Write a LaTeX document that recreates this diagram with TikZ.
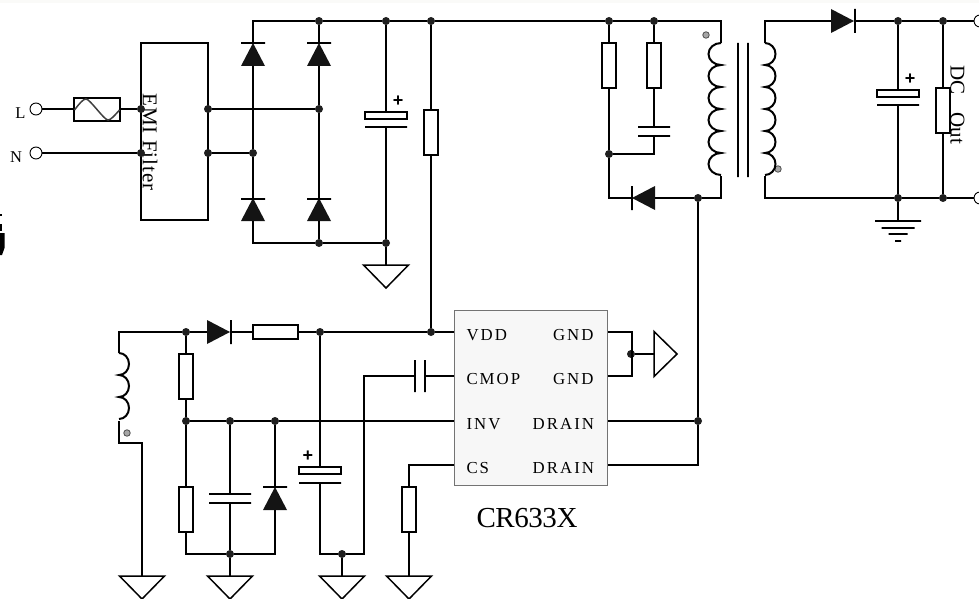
\documentclass[tikz,border=0pt]{standalone}
\usepackage{fontspec}
\setmainfont{Liberation Serif}
\setsansfont{Liberation Sans}
\newfontfamily\pinfont[LetterSpace=12]{Liberation Serif}
\newfontfamily\filterfont[LetterSpace=5]{Liberation Serif}
\newfontfamily\chipfont[LetterSpace=-1.5]{Liberation Serif}
\usetikzlibrary{shapes.geometric}

\begin{document}
\begin{tikzpicture}[x=1pt, y=-1pt, line width=2pt, line join=miter]
\tikzstyle{every node}=[outer sep=0pt];
\tikzstyle{dot}=[circle, fill=black!88, inner sep=0pt, minimum size=8pt];
\tikzstyle{phase}=[circle, draw=black!70, line width=0.8pt, fill=black!35, inner sep=0pt, minimum size=6.5pt];
\tikzstyle{term}=[circle, draw, line width=0.9pt, fill=white, inner sep=0pt, minimum size=12pt];
\tikzstyle{resv}=[rectangle, draw, fill=white, inner sep=0pt, minimum width=14pt, minimum height=45pt];
\tikzstyle{resh}=[rectangle, draw, fill=white, inner sep=0pt, minimum width=45pt, minimum height=14pt];
\tikzstyle{ecap}=[rectangle, draw, fill=white, line width=1.5pt, inner sep=0pt, minimum width=42pt, minimum height=7pt];
\tikzstyle{barh}=[rectangle, draw, line width=1.6pt, inner sep=0pt, minimum width=24pt, minimum height=0pt];
\tikzstyle{barv}=[rectangle, draw, line width=1.6pt, inner sep=0pt, minimum width=0pt, minimum height=24pt];
\tikzstyle{plateh}=[barh, minimum width=42pt];
\tikzstyle{platev}=[barv, minimum height=32pt];
\tikzstyle{diode}=[isosceles triangle, isosceles triangle stretches, draw=none, fill=black!92, inner sep=0pt, minimum width=24pt, minimum height=23pt, anchor=lower side];
\tikzstyle{gnd}=[isosceles triangle, isosceles triangle stretches, draw, line width=1.5pt, inner sep=0pt, minimum width=45pt, minimum height=23pt, anchor=lower side];
\tikzstyle{earth}=[rectangle, draw, line width=1.5pt, inner sep=0pt, minimum height=0pt];
\tikzstyle{plus}=[inner sep=0pt, font=\sffamily\bfseries\fontsize{18}{18}\selectfont];
\tikzstyle{lbl}=[inner sep=0pt, font=\fontsize{16.5}{18}\selectfont];
\tikzstyle{pin}=[inner sep=0pt, font=\pinfont\fontsize{16.8}{18}\selectfont];

\useasboundingbox (0,0) rectangle (979,599);
\fill[yellow!30!black!3] (0,0) rectangle (979,3);
\fill[black] (0,233) -- (4.5,233) -- (4.5,248) -- (2,255) -- (0,255) -- cycle;
\fill[black] (0,214) rectangle (2,216);
\fill[black] (0,224) rectangle (1.5,231);

\node[term] (L) at (36,109) {};
\node[term] (N) at (36,153) {};
\node[lbl] (Llbl) at (20.5,113.5) {L};
\node[lbl] (Nlbl) at (16,157) {N};
\node[rectangle, draw, inner sep=0pt, minimum width=46pt, minimum height=23pt] (fuse) at (97,109.5) {};
\coordinate (fuseL) at (74,109);
\coordinate (fuseR) at (120,109);
\draw[line width=1.5pt, black!75] (74.5,110) .. controls (79,104) and (83,99) .. (86,99) .. controls (90,99) and (104,120) .. (108,120) .. controls (111,120) and (115,115) .. (119.5,110);
\node[rectangle, draw, inner sep=0pt, minimum width=67pt, minimum height=177pt] (emi) at (174.5,131.5) {};
\node[rotate=-90, inner sep=0pt, font=\filterfont\fontsize{21}{21}\selectfont] (emilbl) at (150,142) {EMI Filter};
\node[dot] (emiL) at (141,109) {};
\node[dot] (emiN) at (141,153) {};
\node[dot] (emiA) at (208,109) {};
\node[dot] (emiB) at (208,153) {};
\draw (L) -- (fuseL);
\draw (fuseR) -- (emiL);
\draw (N) -- (emiN);

\coordinate (brTL) at (253,21);
\coordinate (brBL) at (253,243);
\node[dot] (brT) at (319,21) {};
\node[dot] (capT) at (386,21) {};
\node[dot] (vccT) at (431,21) {};
\node[dot] (brA) at (319,109) {};
\node[dot] (brB) at (253,153) {};
\node[dot] (brM) at (319,243) {};
\node[dot] (capB) at (386,243) {};
\node[diode, shape border rotate=90] (d1) at (253,66) {};
\node[diode, shape border rotate=90] (d2) at (319,66) {};
\node[diode, shape border rotate=90] (d3) at (253,221) {};
\node[diode, shape border rotate=90] (d4) at (319,221) {};
\node[barh] (d1b) at (253,43) {};
\node[barh] (d2b) at (319,43) {};
\node[barh] (d3b) at (253,199) {};
\node[barh] (d4b) at (319,199) {};
\draw (emiA) -- (brA);
\draw (emiB) -- (brB);
\draw (d1b) -- (brTL) -- (brT) -- (capT) -- (vccT);
\draw (brT) -- (d2b);
\draw (d1) -- (brB) -- (d3b);
\draw (d2) -- (brA) -- (d4b);
\draw (d3) -- (brBL) -- (brM) -- (capB);
\draw (d4) -- (brM);

\node[ecap] (c1) at (386,115.5) {};
\node[plateh] (c1b) at (386,127) {};
\node[plus] (c1p) at (398,101) {+};
\node[gnd, shape border rotate=-90] (g1) at (386,265) {};
\draw (capT) -- (c1);
\draw (c1b) -- (capB) -- (g1);
\node[resv] (r1) at (431,132.5) {};
\draw (vccT) -- (r1);

\node[dot] (snA) at (609,21) {};
\node[dot] (snB) at (654,21) {};
\coordinate (priT) at (721,21);
\coordinate (priU) at (721,43);
\coordinate (priL) at (721,176);
\coordinate (priB) at (721,198);
\coordinate (snC) at (654,154);
\coordinate (snD) at (609,198);
\node[dot] (snE) at (609,154) {};
\node[dot] (drv) at (698,198) {};
\node[resv] (r2) at (609,65.5) {};
\node[resv] (r3) at (654,65.5) {};
\node[plateh, minimum width=32pt] (c2a) at (654,127) {};
\node[plateh, minimum width=32pt] (c2b) at (654,136) {};
\node[diode, shape border rotate=180] (d5) at (655,198) {};
\node[barv] (d5b) at (632,198) {};
\draw (vccT) -- (snA) -- (snB) -- (priT) -- (priU);
\draw (snA) -- (r2);
\draw (snB) -- (r3);
\draw (r2) -- (snE);
\draw (r3) -- (c2a);
\draw (c2b) -- (snC) -- (snE);
\draw (snE) -- (snD) -- (d5b);
\draw (d5) -- (drv) -- (priB) -- (priL);
\draw (priU) arc[start angle=90, end angle=270, x radius=12.5pt, y radius=11pt] arc[start angle=90, end angle=270, x radius=12.5pt, y radius=11pt] arc[start angle=90, end angle=270, x radius=12.5pt, y radius=11pt] arc[start angle=90, end angle=270, x radius=12.5pt, y radius=11pt] arc[start angle=90, end angle=270, x radius=12.5pt, y radius=11pt] arc[start angle=90, end angle=270, x radius=12.5pt, y radius=11pt];
\node[phase] (priP) at (706,35) {};
\node[barv, minimum height=134pt] (core1) at (738,110) {};
\node[barv, minimum height=134pt] (core2) at (748,110) {};

\coordinate (secT) at (765,21);
\coordinate (secU) at (765,43);
\coordinate (secL) at (765,176);
\coordinate (secB) at (765,198);
\node[phase] (secP) at (778,169) {};
\node[diode, shape border rotate=0] (d6) at (831,21) {};
\node[barv] (d6b) at (855,21) {};
\node[dot] (outA) at (898,21) {};
\node[dot] (outB) at (943,21) {};
\node[dot] (outC) at (898,198) {};
\node[dot] (outD) at (943,198) {};
\node[term] (outP) at (980,21) {};
\node[term] (outN) at (980,198) {};
\node[ecap] (c3) at (898,93.5) {};
\node[plateh] (c3b) at (898,105) {};
\node[plus] (c3p) at (910,79) {+};
\node[resv] (r4) at (943,110.5) {};
\node[rotate=-90, inner sep=0pt, font=\fontsize{21}{21}\selectfont] (outlbl) at (957.5,105) {DC\hspace{18pt}Out};
\node[earth, minimum width=46pt] (e1) at (898,221) {};
\node[earth, minimum width=33pt] (e2) at (898,228) {};
\node[earth, minimum width=19pt] (e3) at (898,234) {};
\node[earth, minimum width=6pt] (e4) at (898,241) {};
\draw (secL) -- (secB) -- (outC) -- (outD) -- (outN);
\draw (secU) -- (secT) -- (d6);
\draw (d6b) -- (outA) -- (outB) -- (outP);
\draw (outA) -- (c3);
\draw (c3b) -- (outC) -- (e1);
\draw (outB) -- (r4) -- (outD);
\draw (secU) arc[start angle=90, end angle=-90, x radius=10.5pt, y radius=11pt] arc[start angle=90, end angle=-90, x radius=10.5pt, y radius=11pt] arc[start angle=90, end angle=-90, x radius=10.5pt, y radius=11pt] arc[start angle=90, end angle=-90, x radius=10.5pt, y radius=11pt] arc[start angle=90, end angle=-90, x radius=10.5pt, y radius=11pt] arc[start angle=90, end angle=-90, x radius=10.5pt, y radius=11pt];

\node[rectangle, draw=black!55, line width=1pt, fill=black!3, inner sep=0pt, minimum width=153pt, minimum height=175pt] (ic) at (530.5,397.5) {};
\node[pin, anchor=west] (vdd) at (466.5,335) {VDD};
\node[pin, anchor=west] (cmop) at (466.5,379) {CMOP};
\node[pin, anchor=west] (inv) at (466.5,424) {INV};
\node[pin, anchor=west] (cs) at (466.5,468) {CS};
\node[pin, anchor=east] (gnd1) at (593.5,335) {GND};
\node[pin, anchor=east] (gnd2) at (593.5,379) {GND};
\node[pin, anchor=east] (drain1) at (594,424) {DRAIN};
\node[pin, anchor=east] (drain2) at (594,468) {DRAIN};
\node[inner sep=0pt, font=\chipfont\fontsize{29}{29}\selectfont] (chip) at (527,518) {CR633X};

\coordinate (pVDD) at (454,332);
\coordinate (pCMOP) at (454,376);
\coordinate (pINV) at (454,421);
\coordinate (pCS) at (454,465);
\coordinate (pG1) at (608,332);
\coordinate (pG2) at (608,376);
\coordinate (pD1) at (608,421);
\coordinate (pD2) at (608,465);
\coordinate (gA) at (632,332);
\coordinate (gB) at (632,376);
\node[dot] (gJ) at (631,354) {};
\node[gnd, shape border rotate=0] (g2) at (654,354) {};
\node[dot] (dJ) at (698,421) {};
\coordinate (dB) at (698,465);
\draw (pG1) -- (gA) -- (gB) -- (pG2);
\draw (gJ) -- (g2);
\draw (pD1) -- (dJ);
\draw (pD2) -- (dB) -- (dJ) -- (drv);

\node[dot] (vdJ) at (431,332) {};
\draw (r1) -- (vdJ);
\coordinate (auxT) at (119,332);
\coordinate (auxU) at (119,353);
\coordinate (auxL) at (119,421);
\coordinate (auxM) at (119,443);
\coordinate (auxB) at (142,443);
\node[phase] (auxP) at (127,433) {};
\node[dot] (aA) at (186,332) {};
\node[dot] (aB) at (320,332) {};
\node[dot] (aC) at (186,421) {};
\node[dot] (aD) at (230,421) {};
\node[dot] (aE) at (275,421) {};
\node[diode, shape border rotate=0] (d7) at (207,332) {};
\node[barv] (d7b) at (231,332) {};
\node[resh] (r5) at (275.5,332) {};
\node[resv] (r6) at (186,376.5) {};
\node[resv] (r7) at (186,509.5) {};
\node[plateh] (c4a) at (230,494) {};
\node[plateh] (c4b) at (230,503) {};
\node[diode, shape border rotate=90] (d8) at (275,510) {};
\node[barh] (d8b) at (275,487) {};
\node[ecap] (c5) at (320,470.5) {};
\node[plateh] (c5b) at (320,483) {};
\node[plus] (c5p) at (308,456) {+};
\node[platev] (c6a) at (415,376) {};
\node[platev] (c6b) at (425,376) {};
\node[resv] (r8) at (409,509.5) {};
\coordinate (rBL) at (186,554);
\node[dot] (rB) at (230,554) {};
\coordinate (rBR) at (275,554);
\coordinate (cBL) at (320,554);
\node[dot] (cB) at (342,554) {};
\coordinate (cBR) at (364,554);
\coordinate (cT) at (364,376);
\coordinate (csT) at (409,465);
\node[gnd, shape border rotate=-90] (g3) at (142,576) {};
\node[gnd, shape border rotate=-90] (g4) at (230,576) {};
\node[gnd, shape border rotate=-90] (g5) at (342,576) {};
\node[gnd, shape border rotate=-90] (g6) at (409,576) {};
\draw (auxU) -- (auxT) -- (aA) -- (d7);
\draw (d7b) -- (r5) -- (aB) -- (vdJ) -- (pVDD);
\draw (auxL) -- (auxM) -- (auxB) -- (g3);
\draw (auxU) arc[start angle=90, end angle=-90, x radius=10pt, y radius=11pt] arc[start angle=90, end angle=-90, x radius=10pt, y radius=11pt] arc[start angle=90, end angle=-90, x radius=10pt, y radius=11pt];
\draw (aA) -- (r6) -- (aC) -- (r7) -- (rBL) -- (rB) -- (rBR) -- (d8);
\draw (aC) -- (aD) -- (aE) -- (pINV);
\draw (aD) -- (c4a);
\draw (c4b) -- (rB) -- (g4);
\draw (aE) -- (d8b);
\draw (aB) -- (c5);
\draw (c5b) -- (cBL) -- (cB) -- (cBR) -- (cT) -- (c6a);
\draw (cB) -- (g5);
\draw (c6b) -- (pCMOP);
\draw (pCS) -- (csT) -- (r8) -- (g6);
\end{tikzpicture}
\end{document}
